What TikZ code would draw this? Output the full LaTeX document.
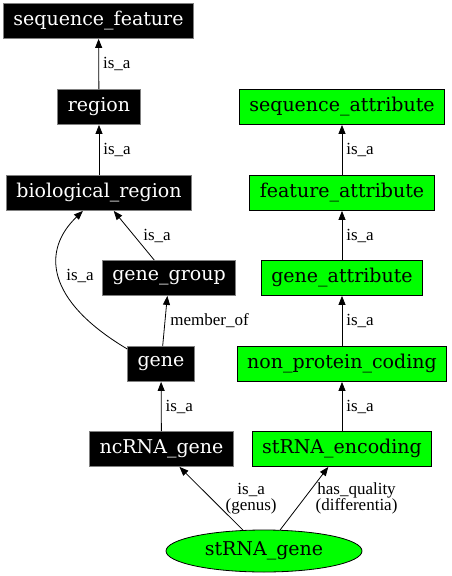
\documentclass[tikz,border=0pt]{standalone}
\usepackage{fontspec}
\setmainfont{DejaVu Serif}
\newfontfamily\relfont{Liberation Serif}
\usetikzlibrary{positioning,arrows.meta,shapes.geometric}

\begin{document}
\begin{tikzpicture}[x=1pt, y=-1pt,
  term/.style={draw=gray, fill=black, text=white, minimum height=35pt, inner xsep=10pt, font=\fontsize{19}{21}\selectfont},
  attr/.style={draw=black, fill=green, text=black, minimum height=35pt, inner xsep=10pt, font=\fontsize{19}{21}\selectfont},
  rel/.style={font=\relfont\fontsize{17}{16}\selectfont, anchor=west, inner sep=3pt, align=center},
  >={Triangle[length=9pt, width=7pt]}, line width=0.8pt]
\useasboundingbox (0,0) rectangle (452,576);

% Left column %
\node[term] (seqfeat) at (98.5,21) {sequence\_feature};
\node[term] (region) at (99,107) {region};
\node[term] (bioregion) at (99,193) {biological\_region};
\node[term] (genegroup) at (169,278) {gene\_group};
\node[term] (gene) at (161,364) {gene};
\node[term] (ncrna) at (161.5,449) {ncRNA\_gene};

% Right column %
\node[attr] (seqattr) at (342,107) {sequence\_attribute};
\node[attr] (featattr) at (342,193) {feature\_attribute};
\node[attr] (geneattr) at (342,278) {gene\_attribute};
\node[attr] (nonprot) at (342,364) {non\_protein\_coding};
\node[attr] (strnaenc) at (342,449) {stRNA\_encoding};

% Class %
\node[ellipse, draw=black, fill=green, minimum width=196pt, minimum height=42pt, inner sep=0pt, font=\fontsize{19}{21}\selectfont] (strna) at (264,551) {stRNA\_gene};

% Edges %
\draw[->] (region) -- node[rel, xshift=1pt] {is\_a} (seqfeat);
\draw[->] (bioregion) -- node[rel, xshift=1pt] {is\_a} (region);
\draw[->] (genegroup) -- node[rel, xshift=6pt] {is\_a} (bioregion);
\draw[->] (gene.156) .. controls (45,300) and (42,250) .. node[rel, xshift=4pt] {is\_a} (bioregion.-132);
\draw[->] (gene) -- node[rel, xshift=2pt] {member\_of} (genegroup);
\draw[->] (ncrna) -- node[rel, xshift=1pt] {is\_a} (gene);

\draw[->] (featattr) -- node[rel, xshift=1pt] {is\_a} (seqattr);
\draw[->] (geneattr) -- node[rel, xshift=1pt] {is\_a} (featattr);
\draw[->] (nonprot) -- node[rel, xshift=1pt] {is\_a} (geneattr);
\draw[->] (strnaenc) -- node[rel, xshift=1pt] {is\_a} (nonprot);

\draw[->] (strna) -- node[rel, xshift=11pt] {is\_a\\(genus)} (ncrna);
\draw[->] (strna) -- node[rel, xshift=8pt] {has\_quality\\(differentia)} (strnaenc);

\end{tikzpicture}
\end{document}
